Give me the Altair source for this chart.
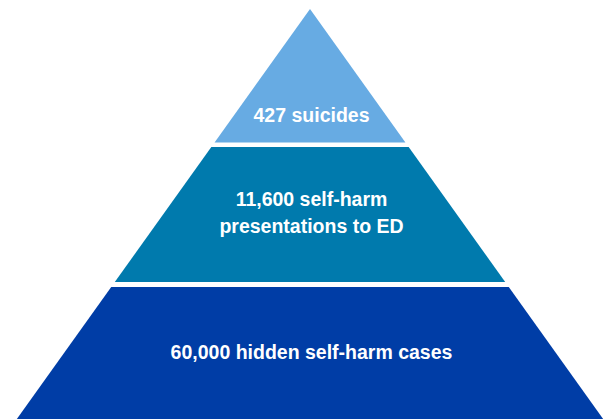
import altair as alt
import pandas as pd

# Pyramid tiers (top to bottom)
tiers = ["suicides", "ed", "hidden"]
tier_labels = [["427 suicides"], ["11,600 self-harm", "presentations to ED"], ["60,000 hidden self-harm cases"]]
tier_colors = ["#67abe3", "#007aad", "#003da6"]
# vertical extent of each tier in pyramid units (0 = apex)
tier_top = [0, 138, 278]
tier_bottom = [133.5, 273, 410]
label_y = [106.5, [190.5, 218], 343.5]

apex_x = 310
apex_y = 9
slope = 0.715  # half-width per unit of depth

rows = []
for t, top, bot in zip(tiers, tier_top, tier_bottom):
    for d in (top, bot):
        rows.append({"tier": t, "y": apex_y + d, "xl": apex_x - slope * d, "xr": apex_x + slope * d})
shape = pd.DataFrame(rows)

lab_rows = []
for t, labs, ly in zip(tiers, tier_labels, label_y):
    ys = ly if isinstance(ly, list) else [ly]
    for l, yy in zip(labs, ys):
        lab_rows.append({"tier": t, "text": l, "y": apex_y + yy, "x": apex_x + 1.5})
labels = pd.DataFrame(lab_rows)

W, H = 604, 419
xs = alt.Scale(domain=[0, W], nice=False, zero=False)
ys = alt.Scale(domain=[0, H], nice=False, zero=False, reverse=True)

area = alt.Chart(shape).mark_area(orient="horizontal").encode(
    y=alt.Y("y:Q", scale=ys, axis=None),
    x=alt.X("xl:Q", scale=xs, axis=None),
    x2="xr:Q",
    color=alt.Color("tier:N", scale=alt.Scale(domain=tiers, range=tier_colors), legend=None),
    detail="tier:N",
)

text = alt.Chart(labels).mark_text(
    color="white", fontWeight="bold", fontSize=19.5,
    font="Liberation Sans, Arial, Helvetica, sans-serif",
    align="center", baseline="middle",
).encode(
    x=alt.X("x:Q", scale=xs, axis=None),
    y=alt.Y("y:Q", scale=ys, axis=None),
    text="text:N",
)

chart = (area + text).properties(
    width=W, height=H, padding=0, autosize=alt.AutoSizeParams(type="none"),
    background="white",
).configure_view(stroke=None)

chart.save("out.html", embed_options={"renderer": "svg", "actions": False})
